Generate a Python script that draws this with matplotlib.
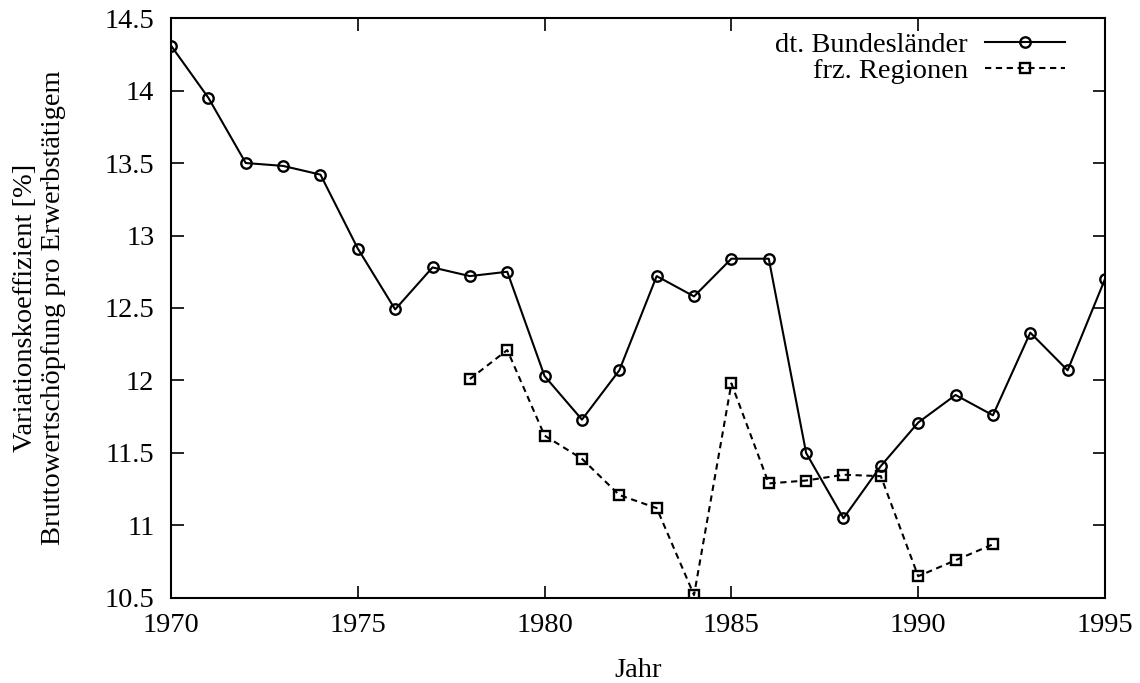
import numpy as np
import matplotlib.pyplot as plt
from matplotlib.ticker import FuncFormatter

plt.rcParams['font.family'] = ['Liberation Serif', 'DejaVu Serif']

# Daten
jahre_de = list(range(1970, 1996))
werte_de = [14.31, 13.95, 13.50, 13.48, 13.42, 12.91, 12.49, 12.78, 12.72, 12.75,
            12.03, 11.73, 12.07, 12.72, 12.58, 12.84, 12.84, 11.50, 11.05, 11.41,
            11.71, 11.90, 11.76, 12.33, 12.07, 12.70]
jahre_fr = list(range(1978, 1993))
werte_fr = [12.01, 12.21, 11.62, 11.46, 11.21, 11.12, 10.52, 11.98, 11.29, 11.31,
            11.35, 11.34, 10.65, 10.76, 10.87]

x_ticks = [1970, 1975, 1980, 1985, 1990, 1995]
y_ticks = [10.5, 11, 11.5, 12, 12.5, 13, 13.5, 14, 14.5]

fs = 20.5

fig = plt.figure(figsize=(11.4, 6.83), dpi=100)
ax = fig.add_axes([0.15, 0.1245, 0.8193, 0.8491])

ax.plot(jahre_de, werte_de, color='black', lw=1.5, marker='o', ms=7.5,
        mfc='none', mew=1.7, label='dt. Bundesländer')
ax.plot(jahre_fr, werte_fr, color='black', lw=1.5, ls=(0, (3, 2.2)), marker='s',
        ms=7, mfc='none', mew=1.7, label='frz. Regionen')

ax.set_xlim(1970, 1995)
ax.set_ylim(10.5, 14.5)
ax.set_xticks(x_ticks)
ax.set_yticks(y_ticks)
ax.yaxis.set_major_formatter(FuncFormatter(lambda v, p: '%g' % v))
ax.tick_params(direction='in', length=9, width=1.2, labelsize=fs, top=True, right=True)
ax.tick_params(axis='y', pad=12)
ax.tick_params(axis='x', pad=11)
for s in ax.spines.values():
    s.set_linewidth(1.5)

ax.set_xlabel('Jahr', fontsize=fs, labelpad=14)
ax.set_ylabel('Variationskoeffizient [%]\nBruttowertschöpfung pro Erwerbstätigem',
              fontsize=fs, labelpad=28, linespacing=1.15)

ax.legend(loc='upper right', frameon=False, markerfirst=False, fontsize=fs,
          handlelength=2.8, borderaxespad=0.2, borderpad=0.3, handletextpad=0.6,
          labelspacing=0.0, bbox_to_anchor=(0.972, 1.0))

plt.savefig('out.png', dpi=100)
